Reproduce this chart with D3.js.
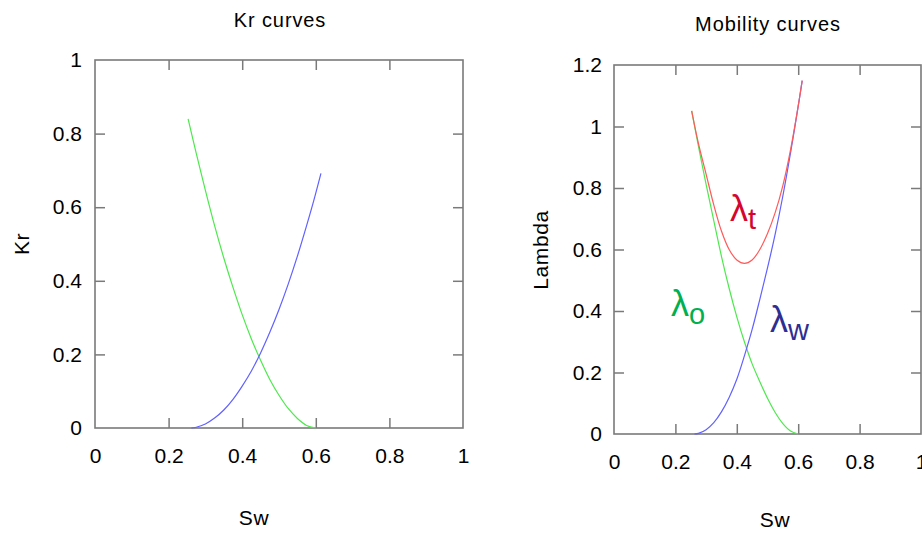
<!DOCTYPE html>
<html>
<head>
<meta charset="utf-8">
<script src="https://cdn.jsdelivr.net/npm/d3@7"></script>
<style>
  html, body { margin: 0; padding: 0; background: #fff; }
  svg { display: block; }
  text { font-family: "Liberation Sans", Arial, sans-serif; fill: #000; }
</style>
</head>
<body>
<svg id="chart" width="922" height="533"></svg>
<script>
// ---------------- data ----------------
const xTicks = [0, 0.2, 0.4, 0.6, 0.8, 1];
const xTickLabels = ["0", "0.2", "0.4", "0.6", "0.8", "1"];
const krTicks = [0, 0.2, 0.4, 0.6, 0.8, 1];
const krTickLabels = ["0", "0.2", "0.4", "0.6", "0.8", "1"];
const lamTicks = [0, 0.2, 0.4, 0.6, 0.8, 1, 1.2];
const lamTickLabels = ["0", "0.2", "0.4", "0.6", "0.8", "1", "1.2"];

// Kr curves: [Sw, Kr]
const kro = [
  [0.253, 0.840], [0.275, 0.747], [0.300, 0.646], [0.325, 0.550],
  [0.350, 0.462], [0.375, 0.382], [0.400, 0.308], [0.425, 0.242],
  [0.450, 0.184], [0.475, 0.132], [0.500, 0.089], [0.525, 0.053],
  [0.550, 0.026], [0.575, 0.007], [0.600, 0.000]
];
const krw = [
  [0.262, 0.000], [0.275, 0.002], [0.300, 0.011], [0.325, 0.027],
  [0.350, 0.049], [0.375, 0.078], [0.400, 0.114], [0.425, 0.155],
  [0.450, 0.204], [0.475, 0.260], [0.500, 0.322], [0.525, 0.391],
  [0.550, 0.467], [0.575, 0.550], [0.595, 0.620], [0.614, 0.692]
];

// Mobility curves: [Sw, lambda]
const lamO = [
  [0.253, 1.051], [0.275, 0.936], [0.300, 0.812], [0.325, 0.694],
  [0.350, 0.578], [0.375, 0.474], [0.400, 0.381], [0.425, 0.299],
  [0.450, 0.228], [0.475, 0.170], [0.500, 0.116], [0.525, 0.070],
  [0.550, 0.034], [0.575, 0.010], [0.600, 0.000]
];
const lamW = [
  [0.262, 0.000], [0.275, 0.002], [0.300, 0.014], [0.325, 0.037],
  [0.350, 0.072], [0.375, 0.119], [0.400, 0.178], [0.425, 0.255],
  [0.450, 0.340], [0.475, 0.438], [0.500, 0.540], [0.525, 0.650],
  [0.550, 0.774], [0.575, 0.914], [0.600, 1.066], [0.613, 1.149]
];
const lamT = [
  [0.253, 1.051], [0.275, 0.945], [0.300, 0.845], [0.325, 0.745],
  [0.350, 0.660], [0.375, 0.600], [0.400, 0.566], [0.425, 0.555],
  [0.450, 0.566], [0.475, 0.600], [0.500, 0.652], [0.525, 0.720],
  [0.550, 0.808], [0.575, 0.924], [0.600, 1.066], [0.613, 1.149]
];

// ---------------- drawing ----------------
const svg = d3.select("#chart");
const frameColor = "#7a7a7a";
const colGreen = "#4ee84e", colBlue = "#6161ff", colRed = "#ff5a5a";

function panel(cfg) {
  const g = svg.append("g");
  const x = d3.scaleLinear().domain([0, 1]).range(cfg.xr);
  const y = d3.scaleLinear().domain(cfg.yd).range(cfg.yr);

  g.append("rect")
    .attr("x", cfg.xr[0]).attr("y", cfg.yr[1])
    .attr("width", cfg.xr[1] - cfg.xr[0]).attr("height", cfg.yr[0] - cfg.yr[1])
    .attr("fill", "none").attr("stroke", frameColor).attr("stroke-width", 1.6);

  const fmtX = d => xTickLabels[xTicks.indexOf(d)];
  const fmtY = d => cfg.yLabels[cfg.yTicks.indexOf(d)];

  const axB = g.append("g").attr("transform", `translate(0,${cfg.yr[0]})`)
    .call(d3.axisBottom(x).tickValues(xTicks).tickFormat(fmtX).tickSizeInner(-10).tickSizeOuter(0).tickPadding(20));
  const axT = g.append("g").attr("transform", `translate(0,${cfg.yr[1]})`)
    .call(d3.axisTop(x).tickValues(xTicks).tickFormat("").tickSizeInner(-10).tickSizeOuter(0));
  const axL = g.append("g").attr("transform", `translate(${cfg.xr[0]},0)`)
    .call(d3.axisLeft(y).tickValues(cfg.yTicks).tickFormat(fmtY).tickSizeInner(-10).tickSizeOuter(0).tickPadding(cfg.yPad));
  const axR = g.append("g").attr("transform", `translate(${cfg.xr[1]},0)`)
    .call(d3.axisRight(y).tickValues(cfg.yTicks).tickFormat("").tickSizeInner(-10).tickSizeOuter(0));

  [axB, axT, axL, axR].forEach(a => {
    a.select(".domain").remove();
    a.selectAll(".tick line").attr("stroke", frameColor).attr("stroke-width", 1.5);
    a.selectAll(".tick text").attr("font-size", 21).attr("fill", "#000")
      .attr("font-family", '"Liberation Sans", Arial, sans-serif');
  });
  [axB, axT].forEach(a => a.selectAll(".tick line").filter(d => d === 0 || d === 1).remove());
  [axL, axR].forEach(a => a.selectAll(".tick line").filter(d => d === cfg.yd[0] || d === cfg.yd[1]).remove());

  const line = d3.line().x(d => x(d[0])).y(d => y(d[1])).curve(d3.curveCatmullRom.alpha(0.5));
  cfg.series.forEach(s => {
    g.append("path").datum(s.data).attr("d", line)
      .attr("fill", "none").attr("stroke", s.color).attr("stroke-width", 1.2);
  });

  g.append("text").attr("x", cfg.title.x).attr("y", cfg.title.y)
    .attr("text-anchor", "middle").attr("font-size", 20).attr("letter-spacing", "0.9px")
    .text(cfg.title.text);
  g.append("text").attr("x", cfg.xlab.x).attr("y", cfg.xlab.y)
    .attr("text-anchor", "middle").attr("font-size", 21).attr("letter-spacing", "0.6px")
    .text("Sw");
  g.append("text")
    .attr("transform", `translate(${cfg.ylab.x},${cfg.ylab.y}) rotate(-90)`)
    .attr("text-anchor", "middle").attr("font-size", 21).attr("letter-spacing", "0.6px")
    .text(cfg.ylab.text);
  return { g, x, y };
}

panel({
  xr: [95, 463], yr: [428, 60], yd: [0, 1],
  yTicks: krTicks, yLabels: krTickLabels, yPad: 13,
  series: [{ data: kro, color: colGreen }, { data: krw, color: colBlue }],
  title: { text: "Kr curves", x: 280, y: 27 },
  xlab: { x: 254, y: 525 },
  ylab: { text: "Kr", x: 29, y: 244 }
});

panel({
  xr: [614, 921], yr: [434, 65], yd: [0, 1.2],
  yTicks: lamTicks, yLabels: lamTickLabels, yPad: 12,
  series: [{ data: lamO, color: colGreen }, { data: lamW, color: colBlue }, { data: lamT, color: colRed }],
  title: { text: "Mobility curves", x: 768, y: 31 },
  xlab: { x: 775, y: 527 },
  ylab: { text: "Lambda", x: 548, y: 250 }
});

// greek curve labels
const greek = [
  { sub: "t", x: 730, y: 221, dy: 8, color: "#d4062f" },
  { sub: "o", x: 671, y: 316, dy: 8, color: "#00b050" },
  { sub: "w", x: 770, y: 332, dy: 8, color: "#2e2e92" }
];
greek.forEach(gk => {
  const t = svg.append("text").attr("x", gk.x).attr("y", gk.y)
    .attr("fill", gk.color).style("fill", gk.color).attr("font-size", 36);
  t.append("tspan").text("λ");
  t.append("tspan").attr("dy", gk.dy).attr("font-size", 29).text(gk.sub);
});
</script>
</body>
</html>
